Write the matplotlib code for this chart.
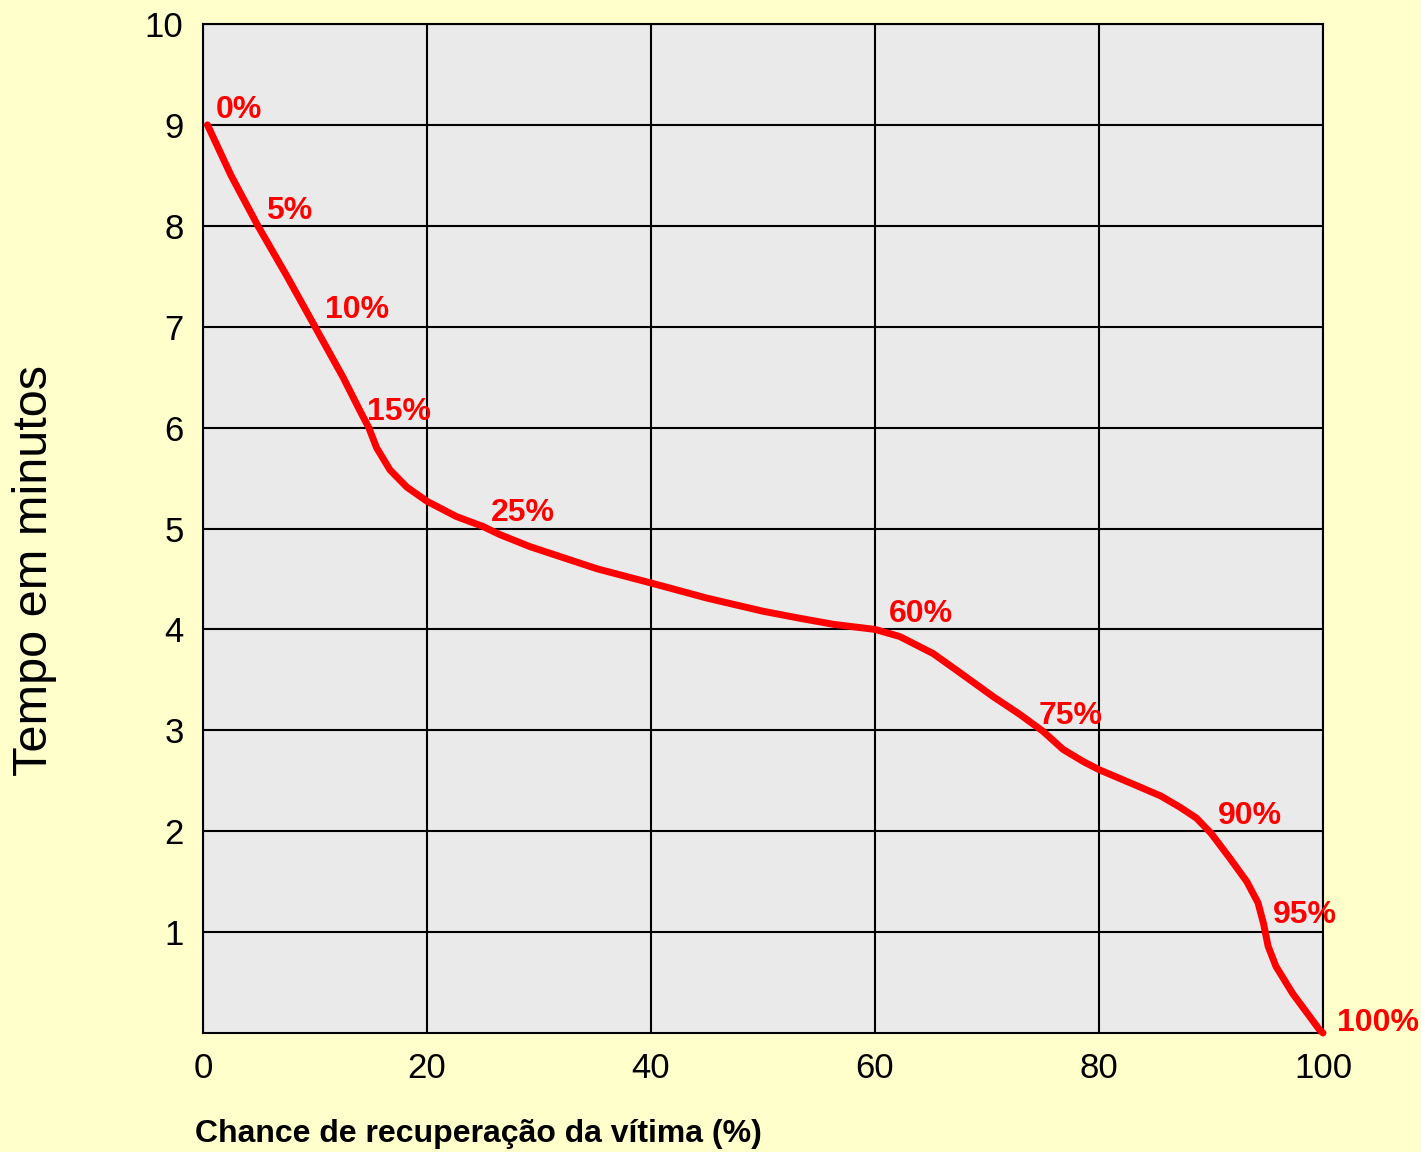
import matplotlib.pyplot as plt

# curve (chance %, minutes)
chance = [0.4, 2.5, 4.9, 7.5, 10.0, 12.5, 14.0, 14.8, 15.5, 16.7, 18.2, 20.0, 22.6, 25.0,
          26.5, 29.2, 35.2, 40.0, 45.0, 50.0, 53.3, 56.3, 58.5, 60.0, 62.2, 65.2, 67.6,
          70.6, 72.9, 75.0, 76.8, 78.6, 80.0, 83.4, 85.5, 87.2, 88.7, 90.0, 91.7, 93.2,
          94.2, 94.7, 95.1, 95.8, 97.3, 99.7, 100.0]
minutes = [9.0, 8.5, 8.0, 7.5, 7.0, 6.5, 6.17, 6.0, 5.80, 5.58, 5.41, 5.27, 5.12, 5.02,
           4.94, 4.82, 4.60, 4.46, 4.31, 4.18, 4.11, 4.05, 4.02, 4.0, 3.93, 3.76, 3.57,
           3.33, 3.16, 2.99, 2.81, 2.69, 2.61, 2.45, 2.35, 2.24, 2.13, 1.98, 1.73, 1.50,
           1.29, 1.08, 0.86, 0.66, 0.39, 0.03, 0.0]

# labelled points on the curve
label_x = [0.4, 4.9, 10.0, 14.8, 25.0, 60.0, 75.0, 90.0, 94.8, 100.0]
label_y = [9, 8, 7, 6, 5, 4, 3, 2, 1, 0]
label_txt = ['0%', '5%', '10%', '15%', '25%', '60%', '75%', '90%', '95%', '100%']

xticks = [0, 20, 40, 60, 80, 100]
yticks = [1, 2, 3, 4, 5, 6, 7, 8, 9, 10]

plt.rcParams['font.family'] = ['Liberation Sans', 'DejaVu Sans']

fig = plt.figure(figsize=(14.21, 11.52), dpi=100, facecolor='#FFFFCC')
ax = fig.add_axes([203/1421, 1 - 1033/1152, 1120/1421, 1009/1152])
ax.set_facecolor('#EAEAEA')

ax.set_xlim(0, 100)
ax.set_ylim(0, 10)
ax.set_xticks(xticks)
ax.set_yticks(yticks)
ax.tick_params(length=0, labelsize=25, pad=14)
ax.grid(True, color='black', linewidth=1.5)
ax.set_axisbelow(True)
for s in ax.spines.values():
    s.set_linewidth(1.5)
    s.set_color('black')

ax.plot(chance, minutes, color='#FF0000', linewidth=5, solid_capstyle='round',
        solid_joinstyle='round', clip_on=False, zorder=3)

offsets = [(6, 11), (6, 11), (7, 12), (-1, 11), (6, 11), (10, 11), (-3, 10), (5, 11), (6, 12), (10, 7)]
for lx, ly, t, off in zip(label_x, label_y, label_txt, offsets):
    ax.annotate(t, (lx, ly), xytext=off, textcoords='offset points', ha='left', va='center',
                color='#FF0000', fontsize=23, fontweight='bold', annotation_clip=False, zorder=4)

fig.text(35/1421, 1 - 570/1152, 'Tempo em minutos', rotation=90, fontsize=35,
         ha='center', va='center')
fig.text(195/1421, 1 - 1134/1152, 'Chance de recuperação da vítima (%)', fontsize=23,
         fontweight='bold', ha='left', va='center')

fig.savefig('out.png', dpi=100, facecolor=fig.get_facecolor())
